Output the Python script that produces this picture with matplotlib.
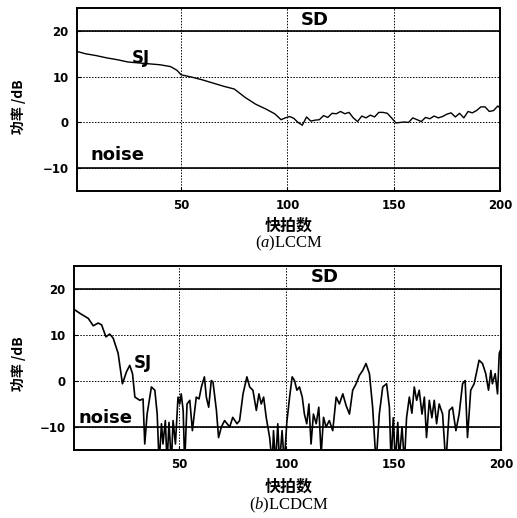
import matplotlib.pyplot as plt

# panel (a) LCCM: SJ power vs snapshot
lccm_x = [1, 5, 10, 15, 20, 25, 30, 35, 40, 45, 48, 50, 55, 60, 65, 70, 75, 80, 85, 90,
          94, 97, 99, 101, 103, 105, 107, 109, 111, 113, 115, 117, 119, 121, 123, 125,
          127, 129, 131, 133, 135, 137, 139, 141, 143, 145, 147, 149, 151, 153, 155,
          157, 159, 161, 163, 165, 167, 169, 171, 173, 175, 177, 179, 181, 183, 185,
          187, 189, 191, 193, 195, 197, 199, 200]
lccm_y = [15.5, 15.0, 14.6, 14.1, 13.7, 13.2, 13.0, 12.8, 12.6, 12.2, 11.4, 10.4, 9.9,
          9.3, 8.6, 7.9, 7.3, 5.5, 4.0, 2.9, 1.9, 0.6, 1.0, 1.3, 0.9, 0.0, -0.6, 1.2,
          0.3, 0.5, 0.6, 1.5, 1.1, 2.0, 1.9, 2.4, 1.9, 2.2, 1.0, 0.2, 1.4, 1.0, 1.6,
          1.2, 2.2, 2.2, 2.0, 1.0, -0.1, 0.0, 0.1, 0.0, 1.0, 0.6, 0.2, 1.1, 0.8, 1.4,
          1.0, 1.3, 1.8, 2.1, 1.2, 2.0, 1.0, 2.4, 2.1, 2.6, 3.4, 3.4, 2.4, 2.6, 3.6, 3.2]

# panel (b) LCDCM
lcdcm_x = [1, 3.8, 7.7, 10, 12.3, 13.9, 15.9, 17.7, 19.3, 21.6, 23.6, 25.5, 27, 28.3,
           29.4, 31.7, 33.2, 34, 35.1, 37.1, 38.7, 39.8, 40.7, 41.8, 42.5, 43.6, 44.4,
           45.3, 46.4, 47.2, 48.3, 49.5, 50.3, 51, 51.9, 52.6, 53.7, 55, 56.2, 57.3,
           58, 59.3, 60.4, 61.8, 62.7, 63.8, 65, 65.8, 67.4, 68.4, 69.7, 71.2, 73.6,
           75, 77, 78.2, 79.8, 81.6, 82.9, 84.4, 86, 87.2, 88.3, 89.4, 90.6, 92.2,
           93.4, 94, 95, 96, 96.8, 98, 99, 100.2, 101.5, 102.7, 103.8, 104.9, 106.1,
           107.4, 108.4, 109.5, 110.5, 111.5, 112.6, 113.9, 115.1, 116.2, 117.3, 118.5,
           120, 121.6, 123.2, 124.7, 126.3, 127.8, 129.4, 130.9, 132.5, 134, 135.6,
           137.1, 138.7, 140.2, 141.8, 143.3, 144.9, 146.7, 148, 148.8, 149.8, 150.8,
           151.9, 152.6, 153.9, 155, 156, 157.3, 158.5, 159.6, 160.7, 161.9, 163.2,
           164.3, 165.3, 166.6, 167.8, 168.9, 170, 171.2, 172.8, 174.3, 175.9, 177.4,
           179, 180.5, 182.1, 183.3, 184.4, 185.9, 187.5, 189.8, 191.4, 192.9, 194.2,
           195.3, 196, 197.3, 198.4, 199.2, 200]
lcdcm_y = [15.6, 14.7, 13.6, 12.0, 12.6, 12.2, 9.6, 10.2, 9.3, 6.0, -0.6, 2.0, 3.4, 1.6,
           -3.5, -4.2, -3.9, -13.7, -7.2, -1.3, -2.0, -7.2, -18, -9.3, -13.7, -8.6,
           -18, -9.0, -18, -8.6, -13.7, -3.5, -5.0, -2.8, -6.4, -18, -5.0, -4.2,
           -10.8, -6.4, -3.5, -3.9, -1.3, 0.9, -3.5, -5.7, 0.1, -0.2, -6.4, -12.3,
           -10.0, -8.6, -10.0, -7.9, -9.3, -8.6, -2.8, 0.9, -1.3, -2.0, -6.4, -2.8,
           -5.0, -3.5, -7.9, -12.3, -18, -10.8, -18, -9.3, -18, -10.8, -18, -9.0,
           -3.5, 0.9, 0.1, -2.0, -1.3, -3.5, -7.2, -9.3, -5.0, -13.7, -7.2, -9.3,
           -5.7, -16, -7.9, -10.0, -8.6, -10.8, -3.5, -5.0, -2.8, -5.3, -7.2, -2.0,
           -0.6, 1.2, 2.3, 3.8, 1.6, -5.7, -18, -7.2, -1.3, -0.6, -5.7, -18, -8.0,
           -18, -9.0, -17, -10.0, -18, -8.0, -3.5, -7.0, -1.3, -4.2, -2.0, -7.2, -3.5,
           -12.3, -4.2, -8.0, -4.2, -9.3, -5.0, -7.2, -18, -6.4, -5.7, -10.8, -7.2,
           -0.6, 0.1, -12.3, -2.0, -0.6, 4.5, 3.8, 1.6, -2.0, 2.3, -0.6, 1.6, -2.8,
           6.0, 7.0]

x_ticks = [50, 100, 150, 200]
y_ticks = [-10, 0, 10, 20]
sd_level = 20
noise_level = -10

plt.rcParams['font.family'] = ['DejaVu Sans', 'Noto Sans CJK SC']
plt.rcParams['mathtext.fontset'] = 'custom'
plt.rcParams['mathtext.it'] = 'Liberation Serif:italic'
CJK = ['Noto Sans CJK SC', 'DejaVu Sans']

fig = plt.figure(figsize=(5.17, 5.18), dpi=100)
ax_a = fig.add_axes([0.149, 0.631, 0.818, 0.3536])
ax_b = fig.add_axes([0.143, 0.1313, 0.826, 0.3552])


def style_axes(ax):
    ax.set_xlim(1, 200)
    ax.set_ylim(-15, 25)
    ax.set_xticks(x_ticks)
    ax.set_yticks(y_ticks)
    ax.tick_params(direction="in", length=3, width=0.8, pad=6, labelsize=8.5)
    for lab in ax.get_xticklabels() + ax.get_yticklabels():
        lab.set_fontweight("bold")
    ax.grid(True, linestyle=(0, (1.5, 1.5)), color="black", linewidth=0.7)
    for s in ax.spines.values():
        s.set_linewidth(1.4)
    ax.axhline(sd_level, color="black", lw=1.2)
    ax.axhline(noise_level, color="black", lw=1.2)


style_axes(ax_a)
ax_a.plot(lccm_x, lccm_y, color="black", lw=1.0)
ax_a.text(113, 20.4, "SD", ha="center", va="bottom", fontsize=13, fontweight="bold")
ax_a.text(31, 14.1, "SJ", ha="center", va="center", fontsize=12, fontweight="bold")
ax_a.text(7.5, -8.3, "noise", ha="left", va="baseline", fontsize=13, fontweight="bold")

style_axes(ax_b)
ax_b.plot(lcdcm_x, lcdcm_y, color="black", lw=1.2)
ax_b.text(118, 20.7, "SD", ha="center", va="bottom", fontsize=13, fontweight="bold")
ax_b.text(33, 4.0, "SJ", ha="center", va="center", fontsize=12, fontweight="bold")
ax_b.text(2.9, -9.1, "noise", ha="left", va="baseline", fontsize=13, fontweight="bold")

panels = [(107, 226, 243, "($a$)LCCM"), (364, 487, 505, "($b$)LCDCM")]
for ylab_y, xl_y, cap_y, cap in panels:
    fig.text(18 / 517, 1 - ylab_y / 518, "功率 /dB", rotation=90, ha="center", va="center",
             fontsize=10, fontweight="bold", family=CJK)
    fig.text(289 / 517, 1 - xl_y / 518, "快拍数", ha="center", va="center",
             fontsize=11.5, fontweight="bold", family=CJK)
    fig.text(289 / 517, 1 - cap_y / 518, cap, ha="center", va="center",
             fontsize=12, family="Liberation Serif")

fig.savefig("out.png", dpi=100)
